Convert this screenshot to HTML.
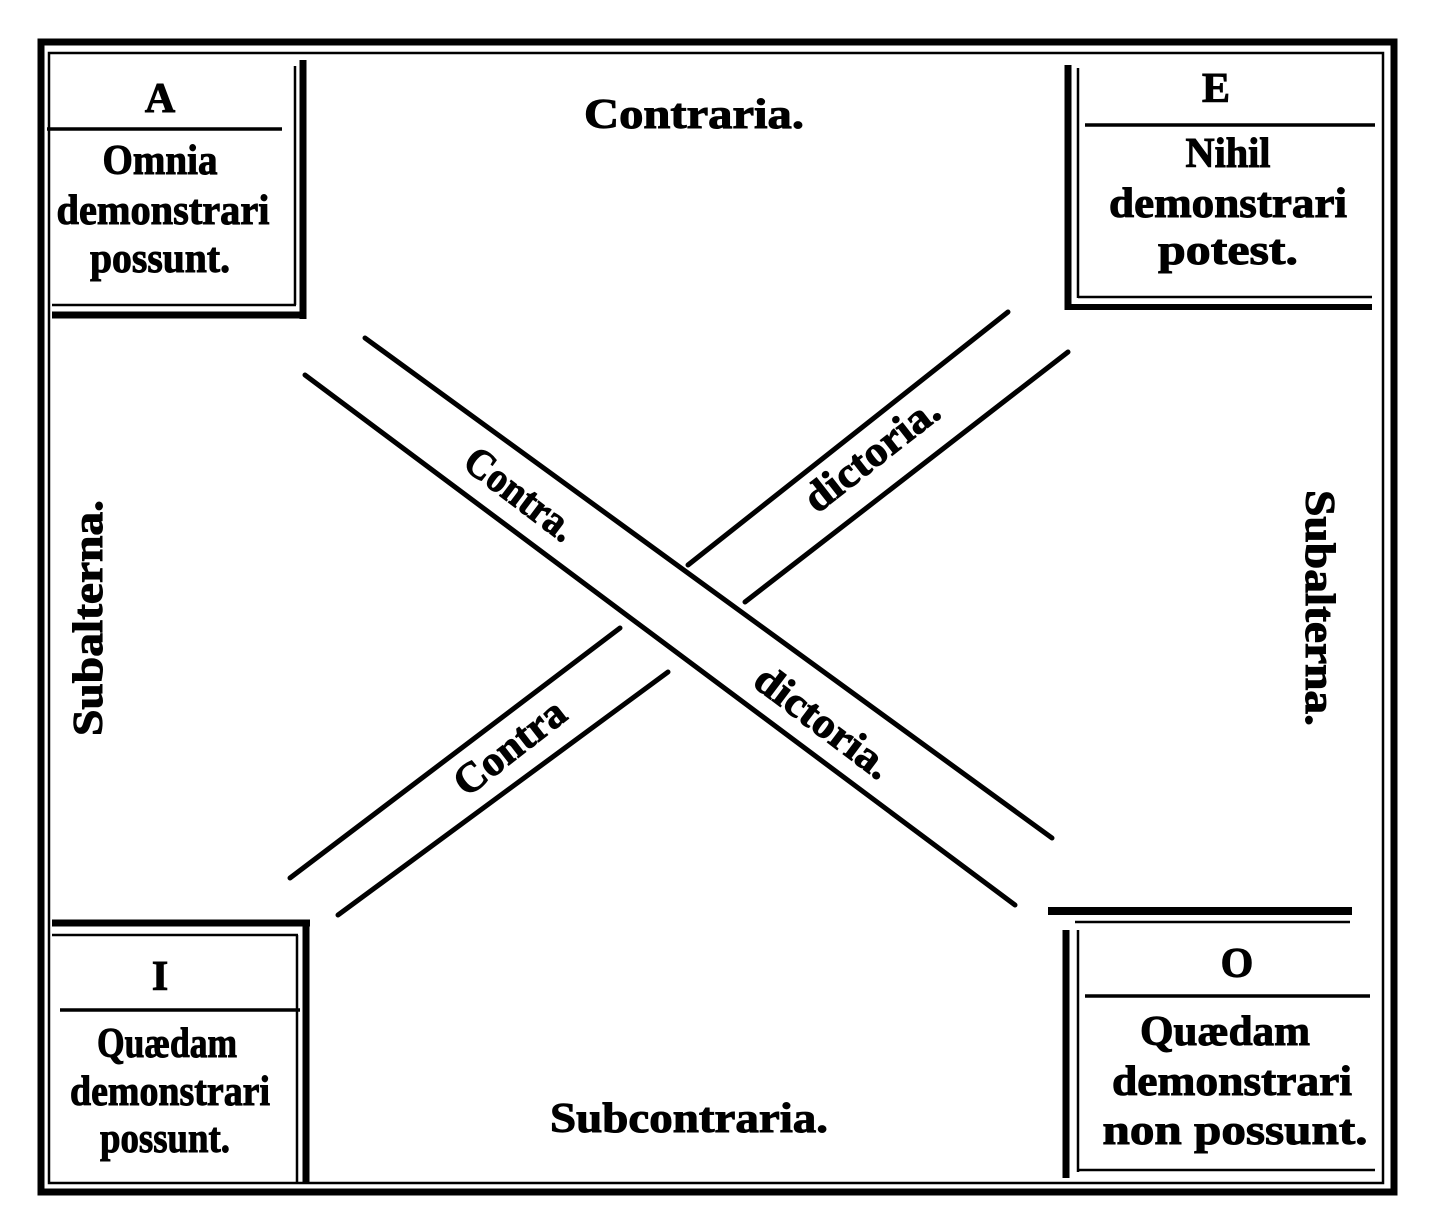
<!DOCTYPE html>
<html><head><meta charset="utf-8"><style>
html,body{margin:0;padding:0;background:#fff}
svg{display:block}
text{font-family:"Liberation Serif",serif;font-weight:bold;fill:#000;stroke:#000;stroke-width:1}
</style></head><body>
<svg width="1433" height="1226" viewBox="0 0 1433 1226" xmlns="http://www.w3.org/2000/svg">
<g stroke="#000" fill="none">
<rect x="41" y="42" width="1353" height="1150" stroke-width="7"/>
<rect x="49" y="53" width="1334" height="1130" stroke-width="2.5"/>
<line x1="303" y1="60" x2="303" y2="319" stroke-width="7"/>
<line x1="295" y1="66" x2="295" y2="305" stroke-width="2.5"/>
<line x1="52" y1="315" x2="306" y2="315" stroke-width="7"/>
<line x1="52" y1="305" x2="296" y2="305" stroke-width="2.5"/>
<line x1="47" y1="129" x2="282" y2="129" stroke-width="3.5"/>
<line x1="1068" y1="65" x2="1068" y2="310" stroke-width="7"/>
<line x1="1078" y1="68" x2="1078" y2="298" stroke-width="2.5"/>
<line x1="1065" y1="307" x2="1372" y2="307" stroke-width="6"/>
<line x1="1078" y1="297" x2="1372" y2="297" stroke-width="2.5"/>
<line x1="1085" y1="125" x2="1375" y2="125" stroke-width="3.5"/>
<line x1="52" y1="923" x2="310" y2="923" stroke-width="7"/>
<line x1="52" y1="935" x2="298" y2="935" stroke-width="2.5"/>
<line x1="306" y1="920" x2="306" y2="1183" stroke-width="7"/>
<line x1="297" y1="935" x2="297" y2="1183" stroke-width="2.5"/>
<line x1="60" y1="1010" x2="300" y2="1010" stroke-width="3.5"/>
<line x1="1048" y1="911" x2="1352" y2="911" stroke-width="8"/>
<line x1="1075" y1="922" x2="1350" y2="922" stroke-width="2.5"/>
<line x1="1066" y1="930" x2="1066" y2="1178" stroke-width="7"/>
<line x1="1078" y1="930" x2="1078" y2="1172" stroke-width="2.5"/>
<line x1="1078" y1="1170" x2="1375" y2="1170" stroke-width="2.5"/>
<line x1="1085" y1="996" x2="1370" y2="996" stroke-width="3.5"/>
<g stroke-width="5" stroke-linecap="round">
<line x1="305" y1="375" x2="1015" y2="905"/>
<line x1="365" y1="338" x2="1052" y2="838"/>
<line x1="1008" y1="312" x2="688" y2="565"/>
<line x1="620" y1="628" x2="290" y2="878"/>
<line x1="1068" y1="352" x2="745" y2="602"/>
<line x1="668" y1="672" x2="338" y2="915"/>
</g>
</g>
<g font-size="42" text-anchor="middle">
<text x="160" y="112">A</text>
<text x="160" y="174" textLength="115" lengthAdjust="spacingAndGlyphs">Omnia</text>
<text x="163" y="224" textLength="213" lengthAdjust="spacingAndGlyphs">demonstrari</text>
<text x="160" y="272" textLength="140" lengthAdjust="spacingAndGlyphs">possunt.</text>

<text x="1216" y="102">E</text>
<text x="1228" y="167" textLength="85" lengthAdjust="spacingAndGlyphs">Nihil</text>
<text x="1228" y="217" textLength="238" lengthAdjust="spacingAndGlyphs">demonstrari</text>
<text x="1228" y="264" textLength="140" lengthAdjust="spacingAndGlyphs">potest.</text>

<text x="160" y="990">I</text>
<text x="167" y="1057" textLength="140" lengthAdjust="spacingAndGlyphs">Quædam</text>
<text x="170" y="1105" textLength="200" lengthAdjust="spacingAndGlyphs">demonstrari</text>
<text x="165" y="1152" textLength="130" lengthAdjust="spacingAndGlyphs">possunt.</text>

<text x="1237" y="977">O</text>
<text x="1225" y="1045" textLength="170" lengthAdjust="spacingAndGlyphs">Quædam</text>
<text x="1232" y="1095" textLength="240" lengthAdjust="spacingAndGlyphs">demonstrari</text>
<text x="1235" y="1144" textLength="265" lengthAdjust="spacingAndGlyphs">non possunt.</text>

<text x="694" y="128" textLength="220" lengthAdjust="spacingAndGlyphs">Contraria.</text>
<text x="689" y="1132" textLength="278" lengthAdjust="spacingAndGlyphs">Subcontraria.</text>

<text transform="translate(102,618) rotate(-90)" textLength="236" lengthAdjust="spacingAndGlyphs">Subalterna.</text>
<text transform="translate(1306,608) rotate(90)" textLength="236" lengthAdjust="spacingAndGlyphs">Subalterna.</text>

<text transform="translate(512,505) rotate(37)" textLength="128" lengthAdjust="spacingAndGlyphs">Contra.</text>
<text transform="translate(815,733) rotate(37)" textLength="160" lengthAdjust="spacingAndGlyphs">dictoria.</text>
<text transform="translate(880,465) rotate(-38)" textLength="160" lengthAdjust="spacingAndGlyphs">dictoria.</text>
<text transform="translate(518,758) rotate(-38)" textLength="130" lengthAdjust="spacingAndGlyphs">Contra</text>
</g>
</svg>
</body></html>
